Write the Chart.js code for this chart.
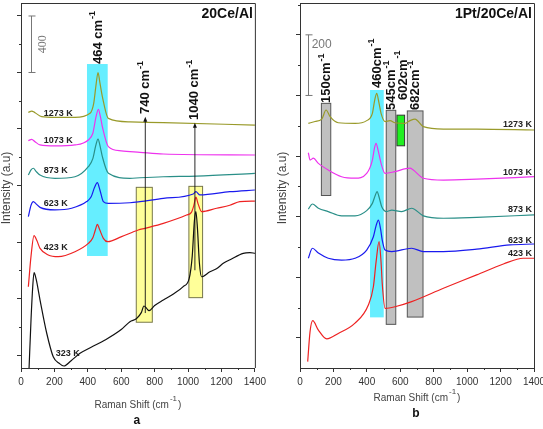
<!DOCTYPE html>
<html><head><meta charset="utf-8">
<script src="https://cdn.jsdelivr.net/npm/chart.js"></script>
<style>
html,body{margin:0;padding:0;background:#fff;overflow:hidden}
#wrap{position:relative;width:543px;height:429px;overflow:hidden;background:#fff}
#ca{position:absolute;left:0;top:0}
#cb{position:absolute;left:270px;top:0}
</style></head><body>
<div id="wrap"><canvas id="ca" width="270" height="429"></canvas><canvas id="cb" width="290" height="429"></canvas></div>
<script>
// Espectros Raman, panel a (20Ce/Al) y panel b (1Pt/20Ce/Al)
const xTicksLabels = [0, 200, 400, 600, 800, 1000, 1200, 1400];

// panel a
const shiftA323 = [48,60,70,78,90,114,154,193,230,257,300,353,420,503,600,652,692,720,736,752,766,800,852,910,971,1007,1025,1038,1047,1056,1068,1081,1131,1170,1211,1260,1330,1370,1400];
const intA323 = [-100,250,480,583,540,389,154,-12,-60,-78,-40,12,55,106,180,236,258,300,347,330,314,350,389,430,484,543,700,950,1015,900,650,554,590,610,649,680,720,725,720];
const shiftA423 = [44,60,78,95,114,163,223,323,403,430,445,457,470,493,519,602,702,742,852,991,1020,1035,1047,1060,1081,1171,1250,1310,1400];
const intA423 = [483,700,845,810,755,708,696,731,790,830,885,925,890,826,802,838,885,897,932,991,1010,1060,1117,1070,1015,1039,1060,1086,1090];
const shiftA623 = [44,60,74,90,114,203,303,393,420,440,457,472,493,523,652,712,852,1031,1047,1071,1250,1400];
const intA623 = [979,1060,1086,1070,1045,1027,1039,1086,1120,1185,1220,1170,1086,1073,1078,1086,1109,1140,1156,1133,1156,1168];
const shiftA873 = [44,60,74,90,114,203,323,403,430,447,461,475,487,523,652,712,852,1051,1400];
const intA873 = [1274,1310,1322,1300,1274,1251,1262,1333,1390,1480,1529,1470,1404,1286,1251,1255,1262,1267,1286];
const shiftA1073 = [44,64,84,114,203,323,403,430,448,463,475,487,523,600,712,852,1400];
const intA1073 = [1517,1527,1510,1487,1480,1487,1522,1570,1680,1739,1690,1616,1475,1445,1435,1423,1416];
const shiftA1273 = [44,64,84,124,203,323,413,435,450,461,472,487,523,652,852,1400];
const intA1273 = [1717,1727,1715,1687,1682,1682,1711,1780,1920,2000,1930,1830,1675,1650,1645,1628];

// panel b
const shiftB1273 = [50,90,130,156,180,229,329,399,433,447,459,471,485,509,539,568,628,658,688,738,858,1057,1400];
const intB1273 = [708,714,722,752,730,710,708,717,741,785,807,780,741,714,717,710,708,717,722,697,689,689,686];
const shiftB1073 = [50,60,80,110,169,249,329,399,433,445,455,467,485,509,568,658,678,738,858,1057,1400];
const intB1073 = [611,587,593,576,554,532,527,543,587,625,642,620,576,543,549,560,554,527,521,524,532];
const shiftB873 = [50,74,110,169,249,329,399,433,450,461,473,489,519,549,608,668,738,858,1057,1400];
const intB873 = [425,442,428,417,403,403,420,444,470,483,465,433,417,422,417,428,403,395,398,406];
const shiftB623 = [50,74,110,169,249,329,399,439,455,469,482,492,509,549,668,738,858,1057,1257,1400];
const intB623 = [263,296,280,263,257,263,290,334,370,389,360,323,290,285,296,285,285,293,307,310];
const shiftB423 = [46,60,76,110,160,229,329,409,439,455,473,485,492,509,568,668,858,1057,1217,1336,1400];
const intB423 = [-78,20,57,26,-3,15,49,109,169,250,318,250,180,98,103,120,164,208,244,263,263];

const tempsA = ['1273 K', '1073 K', '873 K', '623 K', '423 K', '323 K'];
const tempsB = ['1273 K', '1073 K', '873 K', '623 K', '423 K'];

const FONT = '"Liberation Sans", Arial, sans-serif';

function toXY(xs, ys) { return xs.map((x, i) => ({x: x, y: ys[i]})); }

function ds(xs, ys, color) {
  return { data: toXY(xs, ys), borderColor: color, borderWidth: 1.2, pointRadius: 0,
    cubicInterpolationMode: 'monotone', fill: false };
}

function rotText(ctx, x, y, main, sup, size) {
  ctx.save();
  ctx.translate(x, y);
  ctx.rotate(-Math.PI / 2);
  ctx.font = 'bold ' + size + 'px ' + FONT;
  ctx.textAlign = 'left';
  ctx.textBaseline = 'middle';
  ctx.fillStyle = '#111';
  ctx.fillText(main, 0, 0);
  if (sup) {
    const w = ctx.measureText(main).width;
    ctx.font = 'bold ' + Math.round(size * 0.72) + 'px ' + FONT;
    ctx.fillText(sup, w + 1, -size * 0.42);
  }
  ctx.restore();
}

function annotPlugin(spec) {
  return {
    id: 'annot',
    beforeDatasetsDraw(chart) {
      const ctx = chart.ctx, sx = chart.scales.x, sy = chart.scales.y;
      spec.boxes.forEach(b => {
        const x0 = sx.getPixelForValue(b[0]), x1 = sx.getPixelForValue(b[1]);
        const y0 = sy.getPixelForValue(b[2]), y1 = sy.getPixelForValue(b[3]);
        ctx.save();
        ctx.fillStyle = b[4];
        ctx.fillRect(x0, y1, x1 - x0, y0 - y1);
        if (b[5]) { ctx.strokeStyle = b[5]; ctx.lineWidth = 1; ctx.strokeRect(x0, y1, x1 - x0, y0 - y1); }
        ctx.restore();
      });
    },
    afterDatasetsDraw(chart) {
      const ctx = chart.ctx, sx = chart.scales.x, sy = chart.scales.y, ca = chart.chartArea;
      ctx.save();
      // marco superior y derecho
      ctx.strokeStyle = '#333'; ctx.lineWidth = 1;
      ctx.beginPath();
      ctx.moveTo(ca.left, ca.top + 0.5); ctx.lineTo(ca.right + 0.5, ca.top + 0.5); ctx.lineTo(ca.right + 0.5, ca.bottom);
      ctx.stroke();
      // marcas menores
      ctx.beginPath();
      spec.minorY.forEach(v => { const p = Math.round(sy.getPixelForValue(v)) + 0.5; ctx.moveTo(ca.left - 2, p); ctx.lineTo(ca.left, p); });
      for (let v = 100; v < 1400; v += 200) { const p = Math.round(sx.getPixelForValue(v)) + 0.5; ctx.moveTo(p, ca.bottom); ctx.lineTo(p, ca.bottom + 2); }
      ctx.stroke();
      // barra de escala
      const bx = Math.round(sx.getPixelForValue(spec.bar.x)) + 0.5;
      const by0 = sy.getPixelForValue(spec.bar.y0), by1 = sy.getPixelForValue(spec.bar.y1);
      ctx.strokeStyle = '#777';
      ctx.beginPath();
      ctx.moveTo(bx, by0); ctx.lineTo(bx, by1);
      ctx.moveTo(bx - 3, by0); ctx.lineTo(bx + 4, by0);
      ctx.moveTo(bx - 3, by1); ctx.lineTo(bx + 4, by1);
      ctx.stroke();
      ctx.fillStyle = '#777';
      const tx = sx.getPixelForValue(spec.bar.tx), ty = sy.getPixelForValue(spec.bar.ty);
      if (spec.bar.rot) {
        ctx.save(); ctx.translate(tx, ty); ctx.rotate(-Math.PI / 2);
        ctx.font = '12px "Liberation Serif", serif'; ctx.textAlign = 'center'; ctx.textBaseline = 'middle';
        ctx.fillText(spec.bar.text, 0, 0); ctx.restore();
      } else {
        ctx.font = '12px ' + FONT; ctx.textAlign = 'left'; ctx.textBaseline = 'middle';
        ctx.fillText(spec.bar.text, tx, ty);
      }
      // flechas
      ctx.strokeStyle = '#111'; ctx.fillStyle = '#111'; ctx.lineWidth = 0.9;
      spec.arrows.forEach(a => {
        const ax = sx.getPixelForValue(a[0]), ay0 = sy.getPixelForValue(a[1]), ay1 = sy.getPixelForValue(a[2]);
        ctx.beginPath(); ctx.moveTo(ax, ay0); ctx.lineTo(ax, ay1 + 3); ctx.stroke();
        ctx.beginPath(); ctx.moveTo(ax, ay1); ctx.lineTo(ax - 2, ay1 + 5); ctx.lineTo(ax + 2, ay1 + 5); ctx.closePath(); ctx.fill();
      });
      // etiquetas de picos
      spec.peaks.forEach(p => rotText(ctx, sx.getPixelForValue(p[0]), sy.getPixelForValue(p[1]), p[2], p[3], 13));
      // temperaturas
      ctx.font = 'bold 9px ' + FONT; ctx.fillStyle = '#222'; ctx.textBaseline = 'middle';
      ctx.textAlign = spec.tempAlign;
      spec.temps.forEach((t, i) => ctx.fillText(t, sx.getPixelForValue(spec.tempPos[i][0]), sy.getPixelForValue(spec.tempPos[i][1])));
      // titulo del panel
      ctx.font = 'bold 14px ' + FONT; ctx.textAlign = 'right'; ctx.fillStyle = '#111';
      ctx.fillText(spec.title, ca.right - 2, 14);
      // titulo eje y
      ctx.save(); ctx.translate(spec.yTitleX, 188); ctx.rotate(-Math.PI / 2);
      ctx.font = '12px ' + FONT; ctx.textAlign = 'center'; ctx.fillStyle = '#444';
      ctx.fillText('Intensity (a.u)', 0, 0); ctx.restore();
      // titulo eje x con superindice
      ctx.font = '10px ' + FONT; ctx.fillStyle = '#444'; ctx.textAlign = 'left';
      const t1 = 'Raman Shift (cm', t2 = '-1', t3 = ')';
      const w1 = ctx.measureText(t1).width;
      ctx.font = '8px ' + FONT; const w2 = ctx.measureText(t2).width;
      ctx.font = '10px ' + FONT; const w3 = ctx.measureText(t3).width;
      let x0 = (ca.left + ca.right) / 2 - (w1 + w2 + w3 + 2) / 2;
      ctx.fillText(t1, x0, spec.xTitleY);
      ctx.font = '8px ' + FONT; ctx.fillText(t2, x0 + w1 + 1, spec.xTitleY - 6);
      ctx.font = '10px ' + FONT; ctx.fillText(t3, x0 + w1 + w2 + 2, spec.xTitleY);
      // letra del panel
      ctx.font = 'bold 12px ' + FONT; ctx.textAlign = 'center'; ctx.fillStyle = '#111';
      ctx.fillText(spec.letter, (ca.left + ca.right) / 2 - 1, spec.letterY);
      ctx.restore();
    }
  };
}

function makeChart(id, datasets, yMin, yMax, yTicks, yWidth, padRight, spec) {
  return new Chart(document.getElementById(id), {
    type: 'line',
    data: { datasets: datasets },
    options: {
      responsive: false, animation: false, devicePixelRatio: 1,
      layout: { padding: { top: 3, right: padRight, left: 0, bottom: 0 } },
      plugins: { legend: { display: false }, tooltip: { enabled: false } },
      scales: {
        x: {
          type: 'linear', min: 0, max: 1400,
          afterFit(s) { s.height = 61; },
          afterBuildTicks(s) { s.ticks = xTicksLabels.map(v => ({value: v})); },
          ticks: { autoSkip: false, maxRotation: 0, padding: 4, color: '#333', font: { size: 10, family: FONT },
            callback: v => String(v) },
          grid: { drawOnChartArea: false, tickLength: 4, color: '#333' },
          border: { color: '#333', width: 1 }
        },
        y: {
          min: yMin, max: yMax,
          afterFit(s) { s.width = yWidth; },
          afterBuildTicks(s) { s.ticks = yTicks.map(v => ({value: v})); },
          ticks: { display: false },
          grid: { drawOnChartArea: false, tickLength: 4, color: '#333' },
          border: { color: '#333', width: 1 }
        }
      }
    },
    plugins: [annotPlugin(spec)]
  });
}

const yTicksA = [0, 400, 800, 1200, 1600, 2000, 2400];
const yMinorA = [200, 600, 1000, 1400, 1800, 2200];
const yTicksB = [0, 200, 400, 600, 800, 1000];
const yMinorB = [100, 300, 500, 700, 900, 1100];

makeChart('ca', [
  ds(shiftA323, intA323, '#111111'),
  ds(shiftA423, intA423, '#ee2222'),
  ds(shiftA623, intA623, '#1a1aee'),
  ds(shiftA873, intA873, '#2a8f88'),
  ds(shiftA1073, intA1073, '#ee33ee'),
  ds(shiftA1273, intA1273, '#999a2a')
], -92, 2492, yTicksA, 21, 15, {
  minorY: yMinorA,
  boxes: [[395, 519, 701, 2060, '#66eeff'], [690, 786, 232, 1187, '#ffff99', '#77774a'], [1005, 1087, 406, 1194, '#ffff99', '#77774a']],
  bar: { x: 60, y0: 2000, y1: 2400, tx: 132, ty: 2200, text: '400', rot: true },
  arrows: [[744, 297, 1687], [1041, 600, 1645]],
  peaks: [[463, 2060, '464 cm', '-1'], [746, 1706, '740 cm', '-1'], [1041, 1664, '1040 cm', '-1']],
  temps: tempsA, tempAlign: 'left',
  tempPos: [[136, 1713], [136, 1515], [136, 1303], [136, 1069], [136, 760], [208, 12]],
  title: '20Ce/Al', yTitleX: 7, xTitleY: 405, letter: 'a', letterY: 421
});

makeChart('cb', [
  ds(shiftB423, intB423, '#ee2222'),
  ds(shiftB623, intB623, '#1a1aee'),
  ds(shiftB873, intB873, '#2a8f88'),
  ds(shiftB1073, intB1073, '#ee33ee'),
  ds(shiftB1273, intB1273, '#999a2a')
], -99, 1105, yTicksB, 30, 26, {
  minorY: yMinorB,
  boxes: [[128, 184, 470, 774, '#c0c0c0', '#555'], [419, 501, 68, 818, '#66eeff'], [516, 573, 45, 751, '#c0c0c0', '#555'],
    [580, 626, 634, 735, '#22ee22', '#333'], [642, 736, 69, 749, '#c0c0c0', '#555']],
  bar: { x: 46, y0: 800, y1: 1000, tx: 70, ty: 967, text: '200', rot: false },
  arrows: [],
  peaks: [[160, 775, '150cm', '-1'], [462, 825, '460cm', '-1'], [549, 752, '545cm', '-1'], [618, 785, '602cm', '-1'], [692, 752, '682cm', '-1']],
  temps: tempsB, tempAlign: 'right',
  tempPos: [[1388, 704], [1388, 545], [1388, 425], [1388, 323], [1388, 280]],
  title: '1Pt/20Ce/Al', yTitleX: 13, xTitleY: 398, letter: 'b', letterY: 414
});
</script>
</body></html>
